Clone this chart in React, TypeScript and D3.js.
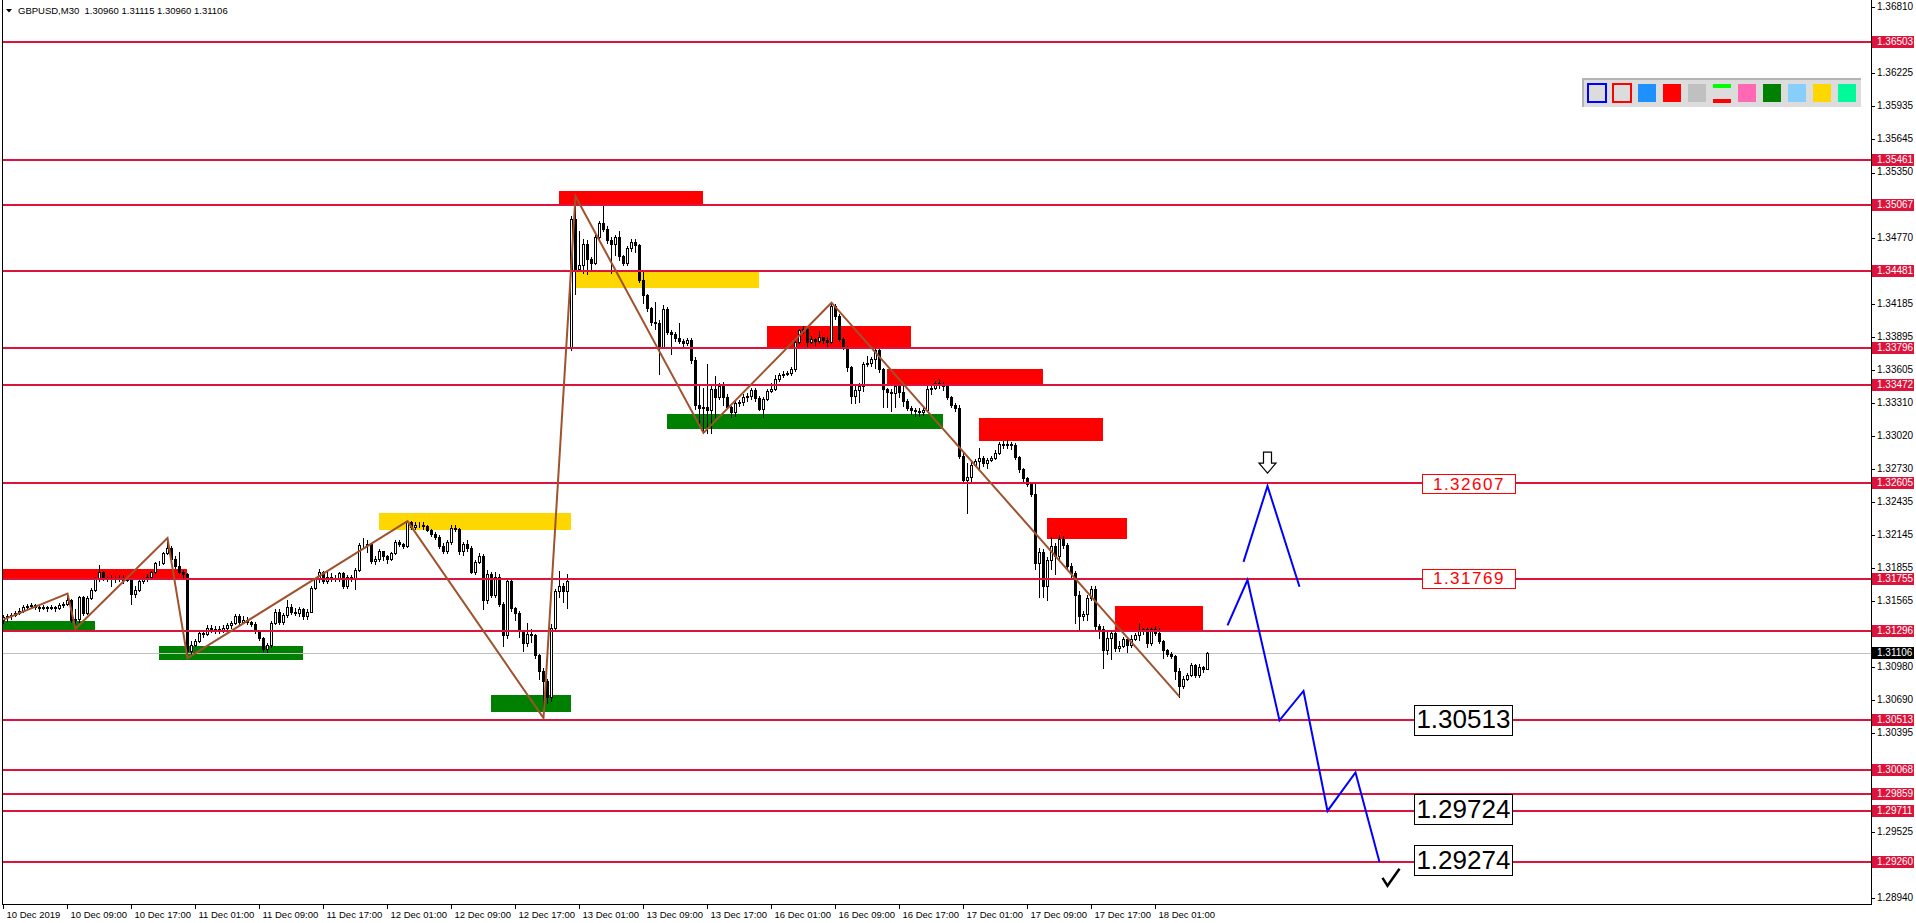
import React from 'react';
import * as d3 from 'd3';

// [open, high, low, close] per M30 bar, grouped by trading day
type Bar = [number, number, number, number];

const dec10: Bar[] = [
  [1.3140, 1.3144, 1.3137, 1.3142], [1.3142, 1.3145, 1.3139, 1.3143], [1.3143, 1.3146, 1.3141, 1.3144], [1.3144, 1.3148, 1.3143, 1.3146],
  [1.3146, 1.3150, 1.3145, 1.3148], [1.3148, 1.3153, 1.3147, 1.3151], [1.3151, 1.3154, 1.3150, 1.3152], [1.3152, 1.3155, 1.3150, 1.3153],
  [1.3153, 1.3154, 1.3149, 1.3151], [1.3151, 1.3152, 1.3148, 1.3150], [1.3150, 1.3153, 1.3149, 1.3151], [1.3151, 1.3152, 1.3148, 1.3150],
  [1.3150, 1.3153, 1.3149, 1.3151], [1.3151, 1.3152, 1.3148, 1.3150], [1.3150, 1.3155, 1.3149, 1.3153], [1.3153, 1.3156, 1.3151, 1.3154],
  [1.3154, 1.3162, 1.3153, 1.3157], [1.3157, 1.3158, 1.3138, 1.3140], [1.3140, 1.3149, 1.3132, 1.3141], [1.3141, 1.3161, 1.3138, 1.3160],
  [1.3160, 1.3161, 1.3144, 1.3146], [1.3146, 1.3161, 1.3145, 1.3159], [1.3159, 1.3168, 1.3158, 1.3166], [1.3166, 1.3178, 1.3165, 1.3176],
  [1.3176, 1.3188, 1.3174, 1.3182], [1.3182, 1.3183, 1.3175, 1.3177], [1.3177, 1.3178, 1.3174, 1.3176], [1.3176, 1.3179, 1.3170, 1.3177],
  [1.3177, 1.3178, 1.3173, 1.3176], [1.3176, 1.3179, 1.3174, 1.3177], [1.3177, 1.3179, 1.3172, 1.3175], [1.3175, 1.3178, 1.3174, 1.3176],
  [1.3176, 1.3177, 1.3154, 1.3163], [1.3163, 1.3170, 1.3160, 1.3166], [1.3166, 1.3175, 1.3165, 1.3174], [1.3174, 1.3178, 1.3172, 1.3176],
  [1.3176, 1.3180, 1.3174, 1.3178], [1.3178, 1.3183, 1.3177, 1.3182], [1.3182, 1.3191, 1.3181, 1.3190], [1.3190, 1.3192, 1.3188, 1.3190],
  [1.3190, 1.3200, 1.3189, 1.3199], [1.3199, 1.3212, 1.3198, 1.3203], [1.3203, 1.3205, 1.3193, 1.3194], [1.3194, 1.3196, 1.3186, 1.3187],
  [1.3187, 1.3200, 1.3181, 1.3182], [1.3182, 1.3184, 1.3178, 1.3180],
];

const dec11: Bar[] = [
  [1.3180, 1.3181, 1.3106, 1.3112], [1.3112, 1.3121, 1.3110, 1.3118], [1.3118, 1.3123, 1.3117, 1.3121], [1.3121, 1.3130, 1.3120, 1.3128],
  [1.3128, 1.3130, 1.3125, 1.3127], [1.3127, 1.3135, 1.3126, 1.3133], [1.3133, 1.3135, 1.3129, 1.3131], [1.3131, 1.3134, 1.3128, 1.3132],
  [1.3132, 1.3134, 1.3128, 1.3130], [1.3130, 1.3135, 1.3129, 1.3133], [1.3133, 1.3137, 1.3131, 1.3135], [1.3135, 1.3139, 1.3133, 1.3137],
  [1.3137, 1.3145, 1.3136, 1.3143], [1.3143, 1.3145, 1.3136, 1.3138], [1.3138, 1.3143, 1.3137, 1.3140], [1.3140, 1.3142, 1.3136, 1.3138],
  [1.3138, 1.3139, 1.3134, 1.3136], [1.3136, 1.3138, 1.3128, 1.3130], [1.3130, 1.3131, 1.3122, 1.3124], [1.3124, 1.3125, 1.3112, 1.3114],
  [1.3114, 1.3119, 1.3111, 1.3118], [1.3118, 1.3139, 1.3116, 1.3137], [1.3137, 1.3149, 1.3136, 1.3147], [1.3147, 1.3149, 1.3136, 1.3138],
  [1.3138, 1.3146, 1.3136, 1.3144], [1.3144, 1.3157, 1.3142, 1.3151], [1.3151, 1.3154, 1.3145, 1.3147], [1.3147, 1.3150, 1.3144, 1.3146],
  [1.3146, 1.3151, 1.3143, 1.3149], [1.3149, 1.3150, 1.3141, 1.3143], [1.3143, 1.3149, 1.3141, 1.3147], [1.3147, 1.3170, 1.3147, 1.3168],
  [1.3168, 1.3177, 1.3167, 1.3176], [1.3176, 1.3185, 1.3173, 1.3182], [1.3182, 1.3183, 1.3172, 1.3174], [1.3174, 1.3183, 1.3172, 1.3178],
  [1.3178, 1.3181, 1.3174, 1.3176], [1.3176, 1.3179, 1.3174, 1.3177], [1.3177, 1.3182, 1.3174, 1.3181], [1.3181, 1.3182, 1.3168, 1.3170],
  [1.3170, 1.3179, 1.3168, 1.3178], [1.3178, 1.3179, 1.3174, 1.3176], [1.3176, 1.3186, 1.3167, 1.3184], [1.3184, 1.3208, 1.3183, 1.3206],
  [1.3206, 1.3212, 1.3203, 1.3206], [1.3206, 1.3210, 1.3200, 1.3207], [1.3207, 1.3208, 1.3190, 1.3192], [1.3192, 1.3196, 1.3189, 1.3194],
];

const dec12: Bar[] = [
  [1.3194, 1.3202, 1.3192, 1.3201], [1.3201, 1.3201, 1.3193, 1.3196], [1.3196, 1.3197, 1.3190, 1.3194], [1.3194, 1.3200, 1.3193, 1.3199],
  [1.3199, 1.3210, 1.3198, 1.3209], [1.3209, 1.3210, 1.3205, 1.3207], [1.3207, 1.3208, 1.3203, 1.3205], [1.3205, 1.3227, 1.3204, 1.3226],
  [1.3226, 1.3227, 1.3220, 1.3222], [1.3222, 1.3226, 1.3220, 1.3224], [1.3224, 1.3226, 1.3222, 1.3224], [1.3224, 1.3226, 1.3220, 1.3223],
  [1.3223, 1.3224, 1.3218, 1.3219], [1.3219, 1.3220, 1.3214, 1.3216], [1.3216, 1.3217, 1.3211, 1.3213], [1.3213, 1.3215, 1.3203, 1.3205],
  [1.3205, 1.3208, 1.3199, 1.3201], [1.3201, 1.3210, 1.3199, 1.3209], [1.3209, 1.3224, 1.3207, 1.3221], [1.3221, 1.3224, 1.3218, 1.3220],
  [1.3220, 1.3221, 1.3198, 1.3201], [1.3201, 1.3209, 1.3197, 1.3207], [1.3207, 1.3210, 1.3201, 1.3203], [1.3203, 1.3205, 1.3181, 1.3182],
  [1.3182, 1.3193, 1.3180, 1.3191], [1.3191, 1.3199, 1.3190, 1.3196], [1.3196, 1.3198, 1.3149, 1.3157], [1.3157, 1.3184, 1.3155, 1.3180],
  [1.3180, 1.3182, 1.3160, 1.3162], [1.3162, 1.3182, 1.3160, 1.3178], [1.3178, 1.3180, 1.3152, 1.3154], [1.3154, 1.3156, 1.3117, 1.3126],
  [1.3126, 1.3176, 1.3124, 1.3174], [1.3174, 1.3175, 1.3148, 1.3150], [1.3150, 1.3151, 1.3140, 1.3146], [1.3146, 1.3148, 1.3125, 1.3130],
  [1.3130, 1.3131, 1.3112, 1.3119], [1.3119, 1.3137, 1.3117, 1.3127], [1.3127, 1.3132, 1.3120, 1.3126], [1.3126, 1.3127, 1.3106, 1.3109],
  [1.3109, 1.3110, 1.3088, 1.3095], [1.3095, 1.3097, 1.3053, 1.3086], [1.3086, 1.3088, 1.3066, 1.3072], [1.3072, 1.3136, 1.3068, 1.3133],
  [1.3133, 1.3167, 1.3130, 1.3165], [1.3165, 1.3183, 1.3160, 1.3170], [1.3170, 1.3172, 1.3156, 1.3165], [1.3165, 1.3180, 1.3150, 1.3174],
];

const dec13: Bar[] = [
  [1.3381, 1.3497, 1.3378, 1.3494], [1.3494, 1.3514, 1.3428, 1.3450], [1.3450, 1.3483, 1.3448, 1.3453], [1.3453, 1.3476, 1.3446, 1.3472],
  [1.3472, 1.3475, 1.3445, 1.3459], [1.3459, 1.3460, 1.3448, 1.3455], [1.3455, 1.3480, 1.3454, 1.3478], [1.3478, 1.3492, 1.3476, 1.3490],
  [1.3490, 1.3505, 1.3483, 1.3485], [1.3485, 1.3488, 1.3473, 1.3475], [1.3475, 1.3478, 1.3446, 1.3472], [1.3472, 1.3480, 1.3462, 1.3478],
  [1.3478, 1.3483, 1.3458, 1.3461], [1.3461, 1.3462, 1.3453, 1.3455], [1.3455, 1.3470, 1.3453, 1.3468], [1.3468, 1.3476, 1.3466, 1.3474],
  [1.3474, 1.3476, 1.3465, 1.3471], [1.3471, 1.3472, 1.3438, 1.3440], [1.3440, 1.3447, 1.3420, 1.3427], [1.3427, 1.3428, 1.3413, 1.3415],
  [1.3415, 1.3416, 1.3400, 1.3403], [1.3403, 1.3421, 1.3397, 1.3402], [1.3402, 1.3405, 1.3357, 1.3381], [1.3381, 1.3418, 1.3380, 1.3414],
  [1.3414, 1.3416, 1.3392, 1.3394], [1.3394, 1.3396, 1.3375, 1.3392], [1.3392, 1.3394, 1.3386, 1.3389], [1.3389, 1.3402, 1.3384, 1.3386],
  [1.3386, 1.3388, 1.3380, 1.3384], [1.3384, 1.3389, 1.3383, 1.3387], [1.3387, 1.3389, 1.3367, 1.3369], [1.3369, 1.3372, 1.3326, 1.3330],
  [1.3330, 1.3346, 1.3313, 1.3327], [1.3327, 1.3345, 1.3305, 1.3328], [1.3328, 1.3366, 1.3305, 1.3325], [1.3325, 1.3346, 1.3305, 1.3344],
  [1.3344, 1.3355, 1.3319, 1.3337], [1.3337, 1.3349, 1.3335, 1.3346], [1.3346, 1.3350, 1.3330, 1.3337], [1.3337, 1.3339, 1.3327, 1.3328],
  [1.3328, 1.3329, 1.3319, 1.3323], [1.3323, 1.3334, 1.3320, 1.3331], [1.3331, 1.3334, 1.3329, 1.3332], [1.3332, 1.3339, 1.3330, 1.3337],
  [1.3337, 1.3340, 1.3333, 1.3338], [1.3338, 1.3345, 1.3335, 1.3343], [1.3343, 1.3345, 1.3333, 1.3336], [1.3336, 1.3338, 1.3325, 1.3326],
];

const dec16: Bar[] = [
  [1.3326, 1.3337, 1.3319, 1.3335], [1.3335, 1.3344, 1.3334, 1.3342], [1.3342, 1.3349, 1.3341, 1.3344], [1.3344, 1.3356, 1.3343, 1.3353],
  [1.3353, 1.3358, 1.3351, 1.3356], [1.3356, 1.3360, 1.3354, 1.3357], [1.3357, 1.3360, 1.3356, 1.3358], [1.3358, 1.3363, 1.3356, 1.3361],
  [1.3361, 1.3386, 1.3360, 1.3385], [1.3385, 1.3397, 1.3384, 1.3396], [1.3396, 1.3399, 1.3393, 1.3397], [1.3397, 1.3398, 1.3382, 1.3385],
  [1.3385, 1.3391, 1.3384, 1.3388], [1.3388, 1.3389, 1.3383, 1.3386], [1.3386, 1.3395, 1.3384, 1.3390], [1.3390, 1.3390, 1.3384, 1.3387],
  [1.3387, 1.3390, 1.3382, 1.3385], [1.3385, 1.3420, 1.3384, 1.3417], [1.3417, 1.3419, 1.3406, 1.3408], [1.3408, 1.3410, 1.3386, 1.3388],
  [1.3388, 1.3390, 1.3379, 1.3381], [1.3381, 1.3382, 1.3360, 1.3363], [1.3363, 1.3364, 1.3331, 1.3338], [1.3338, 1.3346, 1.3331, 1.3343],
  [1.3343, 1.3349, 1.3332, 1.3346], [1.3346, 1.3368, 1.3342, 1.3366], [1.3366, 1.3373, 1.3364, 1.3367], [1.3367, 1.3372, 1.3364, 1.3370],
  [1.3370, 1.3380, 1.3362, 1.3378], [1.3378, 1.3380, 1.3359, 1.3361], [1.3361, 1.3362, 1.3328, 1.3344], [1.3344, 1.3345, 1.3328, 1.3341],
  [1.3341, 1.3344, 1.3324, 1.3340], [1.3340, 1.3347, 1.3328, 1.3346], [1.3346, 1.3347, 1.3337, 1.3341], [1.3341, 1.3346, 1.3329, 1.3333],
  [1.3333, 1.3335, 1.3325, 1.3327], [1.3327, 1.3329, 1.3322, 1.3325], [1.3325, 1.3327, 1.3320, 1.3324], [1.3324, 1.3327, 1.3320, 1.3323],
  [1.3323, 1.3328, 1.3321, 1.3325], [1.3325, 1.3346, 1.3324, 1.3344], [1.3344, 1.3348, 1.3339, 1.3345], [1.3345, 1.3351, 1.3344, 1.3349],
  [1.3349, 1.3353, 1.3345, 1.3348], [1.3348, 1.3350, 1.3343, 1.3346], [1.3346, 1.3348, 1.3335, 1.3337], [1.3337, 1.3338, 1.3328, 1.3330],
];

const dec17: Bar[] = [
  [1.3330, 1.3331, 1.3324, 1.3327], [1.3327, 1.3330, 1.3283, 1.3285], [1.3285, 1.3287, 1.3261, 1.3263], [1.3263, 1.3278, 1.3234, 1.3266],
  [1.3266, 1.3280, 1.3262, 1.3277], [1.3277, 1.3282, 1.3276, 1.3280], [1.3280, 1.3292, 1.3272, 1.3283], [1.3283, 1.3285, 1.3276, 1.3278],
  [1.3278, 1.3283, 1.3274, 1.3281], [1.3281, 1.3285, 1.3280, 1.3283], [1.3283, 1.3290, 1.3282, 1.3287], [1.3287, 1.3297, 1.3286, 1.3295],
  [1.3295, 1.3298, 1.3292, 1.3294], [1.3294, 1.3299, 1.3292, 1.3295], [1.3295, 1.3297, 1.3291, 1.3294], [1.3294, 1.3296, 1.3282, 1.3284],
  [1.3284, 1.3285, 1.3270, 1.3273], [1.3273, 1.3274, 1.3262, 1.3265], [1.3265, 1.3266, 1.3258, 1.3260], [1.3260, 1.3262, 1.3249, 1.3251],
  [1.3251, 1.3262, 1.3185, 1.3190], [1.3190, 1.3203, 1.3160, 1.3200], [1.3200, 1.3202, 1.3160, 1.3170], [1.3170, 1.3195, 1.3157, 1.3193],
  [1.3193, 1.3213, 1.3185, 1.3205], [1.3205, 1.3208, 1.3180, 1.3196], [1.3196, 1.3215, 1.3194, 1.3211], [1.3211, 1.3214, 1.3203, 1.3206],
  [1.3206, 1.3208, 1.3185, 1.3187], [1.3187, 1.3190, 1.3178, 1.3181], [1.3181, 1.3183, 1.3137, 1.3162], [1.3162, 1.3165, 1.3130, 1.3143],
  [1.3143, 1.3148, 1.3140, 1.3145], [1.3145, 1.3162, 1.3140, 1.3159], [1.3159, 1.3170, 1.3157, 1.3167], [1.3167, 1.3170, 1.3132, 1.3134],
  [1.3134, 1.3136, 1.3124, 1.3132], [1.3132, 1.3134, 1.3097, 1.3113], [1.3113, 1.3130, 1.3110, 1.3124], [1.3124, 1.3131, 1.3105, 1.3128],
  [1.3128, 1.3131, 1.3112, 1.3115], [1.3115, 1.3121, 1.3112, 1.3117], [1.3117, 1.3125, 1.3116, 1.3123], [1.3123, 1.3124, 1.3111, 1.3118],
  [1.3118, 1.3126, 1.3116, 1.3123], [1.3123, 1.3128, 1.3122, 1.3126], [1.3126, 1.3137, 1.3122, 1.3131], [1.3131, 1.3133, 1.3127, 1.3132],
];

const dec18: Bar[] = [
  [1.3132, 1.3133, 1.3116, 1.3119], [1.3119, 1.3133, 1.3118, 1.3132], [1.3132, 1.3134, 1.3126, 1.3128], [1.3128, 1.3133, 1.3119, 1.3121],
  [1.3121, 1.3122, 1.3106, 1.3113], [1.3113, 1.3114, 1.3108, 1.3110], [1.3110, 1.3111, 1.3106, 1.3108], [1.3108, 1.3109, 1.3088, 1.3095],
  [1.3095, 1.3097, 1.3072, 1.3081], [1.3081, 1.3090, 1.3080, 1.3088], [1.3088, 1.3093, 1.3087, 1.3091], [1.3091, 1.3102, 1.3090, 1.3100],
  [1.3100, 1.3101, 1.3089, 1.3091], [1.3091, 1.3101, 1.3089, 1.3098], [1.3098, 1.3099, 1.3094, 1.3096], [1.30960, 1.31115, 1.30960, 1.31106],
];

// horizontal support / resistance levels
const levelPrices = [1.36503, 1.35461, 1.35067, 1.34481, 1.33796, 1.33472, 1.32605, 1.31755, 1.31296, 1.30513, 1.30068, 1.29859, 1.29711, 1.29260];
const bidPrice = 1.31106;

const priceTicks = [1.36810, 1.36520, 1.36225, 1.35935, 1.35645, 1.35350, 1.35060, 1.34770, 1.34480, 1.34185, 1.33895, 1.33605, 1.33310,
  1.33020, 1.32730, 1.32435, 1.32145, 1.31855, 1.31565, 1.31270, 1.30980, 1.30690, 1.30395, 1.30105, 1.29815, 1.29525, 1.29230, 1.28940];

const timeLabels = ['10 Dec 2019', '10 Dec 09:00', '10 Dec 17:00', '11 Dec 01:00', '11 Dec 09:00', '11 Dec 17:00', '12 Dec 01:00',
  '12 Dec 09:00', '12 Dec 17:00', '13 Dec 01:00', '13 Dec 09:00', '13 Dec 17:00', '16 Dec 01:00', '16 Dec 09:00', '16 Dec 17:00',
  '17 Dec 01:00', '17 Dec 09:00', '17 Dec 17:00', '18 Dec 01:00'];
const timeLabelBars = [0, 16, 32, 48, 64, 80, 96, 112, 128, 144, 160, 176, 192, 208, 224, 240, 256, 272, 288];

// zones: [fromBar, toBar, topPrice, bottomPrice]
const supplyZones: Bar[] = [
  [0, 46, 1.3185, 1.3175], [139, 175, 1.3519, 1.3507], [191, 227, 1.3399, 1.3380], [221, 260, 1.3361, 1.3346],
  [244, 275, 1.3318, 1.3298], [261, 281, 1.3230, 1.3211], [278, 300, 1.3152, 1.3130],
];
const demandZones: Bar[] = [
  [0, 23, 1.3139, 1.3130], [39, 75, 1.3117, 1.3104], [122, 142, 1.3073, 1.3058], [166, 235, 1.3322, 1.3308],
];
const flipZones: Bar[] = [
  [94, 142, 1.3234, 1.3219], [143, 189, 1.3447, 1.3433],
];

const zigzagBars = [0, 16, 18, 41, 46, 101, 135, 143, 175, 207, 294];
const zigzagPrices = [1.3140, 1.3163, 1.3132, 1.3212, 1.3106, 1.3227, 1.3053, 1.3514, 1.3305, 1.3420, 1.3072];

// projected paths
const bounceBars = [310, 316, 324];
const bouncePrices = [1.3191, 1.3258, 1.3169];
const dropBars = [306, 311, 319, 325, 331, 338, 344];
const dropPrices = [1.3135, 1.3175, 1.3051, 1.3077, 1.2971, 1.3005, 1.2926];

const watchPrices = [1.32607, 1.31769];
const targetPrices = [1.30513, 1.29724, 1.29274];

const toolbarColors = ['#1E90FF', '#FF0000', '#C0C0C0', 'split', '#FF69B4', '#008000', '#87CEFA', '#FFD700', '#00FA9A'];

const FONT = "Tahoma, 'Liberation Sans', Arial, sans-serif";

export default function App() {
  const W = 1916, H = 923;
  const plotRight = 1871, plotBottom = 904;
  const bars = [...dec10, ...dec11, ...dec12, ...dec13, ...dec16, ...dec17, ...dec18];

  const x = d3.scaleLinear().domain([0, 1]).range([3.5, 7.5]);
  const y = d3.scaleLinear().domain([1.28888, 1.36874]).range([plotBottom, 0]);
  const ry = (p: number) => Math.round(y(p));

  const line = d3.line<[number, number]>().x(d => x(d[0])).y(d => y(d[1]));
  const zigzag = line(zigzagBars.map((b, i) => [b, zigzagPrices[i]] as [number, number])) || '';
  const bounce = line(bounceBars.map((b, i) => [b, bouncePrices[i]] as [number, number])) || '';
  const drop = line(dropBars.map((b, i) => [b, dropPrices[i]] as [number, number])) || '';

  // tick labels sitting under a level tag are hidden by it
  const visibleTicks = priceTicks.filter(t => levelPrices.every(p => Math.abs(y(p) - y(t)) > 9));

  const zoneRect = (z: Bar, color: string, k: string) => (
    <rect key={k} x={Math.round(x(z[0]) - 0.5)} y={ry(z[2])} width={Math.round(x(z[1]) - x(z[0]))}
      height={ry(z[3]) - ry(z[2])} fill={color} />
  );

  const arrowX = x(316), arrowY = y(1.3288);
  const checkX = x(346.5), checkY = y(1.2904);

  return (
    <svg width={W} height={H} style={{ position: 'fixed', left: 0, top: 0, background: '#fff' }} fontFamily={FONT}>
      <defs>
        <clipPath id="plot"><rect x={2} y={0} width={plotRight - 2} height={plotBottom} /></clipPath>
      </defs>
      <rect width={W} height={H} fill="#fff" />

      <g clipPath="url(#plot)">
        {supplyZones.map((z, i) => zoneRect(z, '#FF0000', 's' + i))}
        {demandZones.map((z, i) => zoneRect(z, '#008000', 'd' + i))}
        {flipZones.map((z, i) => zoneRect(z, '#FFD700', 'f' + i))}

        <line x1={2} x2={plotRight} y1={ry(bidPrice) + 0.5} y2={ry(bidPrice) + 0.5} stroke="#C0C0C0" strokeWidth={1} />

        <g shapeRendering="crispEdges">
          {bars.map((b, i) => {
            const [o, h, l, c] = b;
            const cx = x(i);
            const bull = c >= o;
            const top = ry(Math.max(o, c)), bot = ry(Math.min(o, c));
            return (
              <g key={i}>
                <line x1={cx} x2={cx} y1={ry(h)} y2={ry(l) + 1} stroke="#000" strokeWidth={1} />
                {bull
                  ? <rect x={cx - 1} y={top + 0.5} width={2} height={Math.max(bot - top, 0)} fill="#fff" stroke="#000" strokeWidth={1} />
                  : <rect x={cx - 1.5} y={top} width={3} height={Math.max(bot - top, 1) + 1} fill="#000" />}
              </g>
            );
          })}
        </g>

        {levelPrices.map((p, i) => (
          <line key={i} x1={2} x2={plotRight} y1={ry(p)} y2={ry(p)} stroke="#DC143C" strokeWidth={2} />
        ))}

        <path d={zigzag} fill="none" stroke="#A0522D" strokeWidth={2} />
        <path d={bounce} fill="none" stroke="#0000FF" strokeWidth={2} />
        <path d={drop} fill="none" stroke="#0000FF" strokeWidth={2} />

        <path d={`M${arrowX - 4},${arrowY} h8 v11 h4.5 l-8.5,10 l-8.5,-10 h4.5 z`} fill="#fff" stroke="#000" strokeWidth={1.2} />
        <path d={`M${checkX - 7},${checkY - 9} l5,8 l12,-17`} fill="none" stroke="#000" strokeWidth={2.5} />

        {watchPrices.map((p, i) => {
          const lx = x(354.6);
          return (
            <g key={i}>
              <rect x={Math.round(lx) + 0.5} y={Math.round(y(p)) - 8.5} width={93} height={19} fill="#fff" stroke="#FF0000" strokeWidth={1} />
              <text x={lx + 47} y={y(p) + 2} textAnchor="middle" dominantBaseline="middle" fill="#FF0000" fontSize={17}
                letterSpacing={1.5}>{p.toFixed(5)}</text>
            </g>
          );
        })}
        {targetPrices.map((p, i) => {
          const lx = x(352.6);
          return (
            <g key={i}>
              <rect x={Math.round(lx) + 0.5} y={Math.round(y(p)) - 14.5} width={98} height={30} fill="#fff" stroke="#000" strokeWidth={1} />
              <text x={lx + 49.5} y={y(p) + 1.5} textAnchor="middle" dominantBaseline="middle" fill="#000" fontSize={26}>{p.toFixed(5)}</text>
            </g>
          );
        })}
      </g>

      {/* toolbar */}
      <g shapeRendering="crispEdges">
        <rect x={1582} y={78} width={279} height={29} fill="#DCDCDC" />
        <rect x={1582} y={78} width={279} height={2} fill="#B4B4B4" />
        <rect x={1582} y={78} width={2} height={29} fill="#B4B4B4" />
        <rect x={1588} y={84} width={18} height={18} fill="#DCDCDC" stroke="#0000FF" strokeWidth={2} />
        <rect x={1613} y={84} width={18} height={18} fill="#DCDCDC" stroke="#FF0000" strokeWidth={2} />
        {toolbarColors.map((c, i) => {
          const sx = 1638 + i * 25;
          return c === 'split'
            ? <g key={i}>
                <rect x={sx} y={84} width={18} height={4} fill="#00FF00" />
                <rect x={sx} y={99} width={18} height={4} fill="#FF0000" />
              </g>
            : <rect key={i} x={sx} y={84} width={18} height={18} fill={c} />;
        })}
      </g>

      {/* frame and axes */}
      <g shapeRendering="crispEdges">
        <line x1={2.5} x2={2.5} y1={0} y2={plotBottom} stroke="#000" />
        <line x1={plotRight + 0.5} x2={plotRight + 0.5} y1={0} y2={plotBottom + 1} stroke="#000" />
        <line x1={2} x2={plotRight + 1} y1={plotBottom + 0.5} y2={plotBottom + 0.5} stroke="#000" />
      </g>

      {visibleTicks.map((t, i) => (
        <g key={i}>
          <line x1={plotRight} x2={plotRight + 4} y1={ry(t) + 0.5} y2={ry(t) + 0.5} stroke="#000" shapeRendering="crispEdges" />
          <text x={plotRight + 6} y={y(t)} dominantBaseline="middle" fontSize={10} fill="#000">{t.toFixed(5)}</text>
        </g>
      ))}
      {levelPrices.map((p, i) => (
        <g key={i}>
          <rect x={plotRight + 1} y={ry(p) - 6} width={W - plotRight - 3} height={12} fill="#DC143C" />
          <text x={plotRight + 6} y={ry(p) + 0.5} dominantBaseline="middle" fontSize={10} fill="#fff">{p.toFixed(5)}</text>
        </g>
      ))}
      <rect x={plotRight + 1} y={ry(bidPrice) - 6} width={W - plotRight - 3} height={12} fill="#000" />
      <text x={plotRight + 6} y={ry(bidPrice) + 0.5} dominantBaseline="middle" fontSize={10} fill="#fff">{bidPrice.toFixed(5)}</text>

      {timeLabels.map((t, i) => {
        const tx = Math.round(x(timeLabelBars[i]) - 0.5) + 0.5;
        return (
          <g key={i}>
            <line x1={tx} x2={tx} y1={plotBottom} y2={plotBottom + 5} stroke="#000" shapeRendering="crispEdges" />
            <text x={tx + 3} y={plotBottom + 14} fontSize={9.5} fill="#000">{t}</text>
          </g>
        );
      })}

      {/* header */}
      <path d="M6,9 h6 l-3,3.5 z" fill="#000" />
      <text x={18} y={14} fontSize={9.5} fill="#000" style={{ whiteSpace: 'pre' }}>GBPUSD,M30  1.30960 1.31115 1.30960 1.31106</text>
    </svg>
  );
}
